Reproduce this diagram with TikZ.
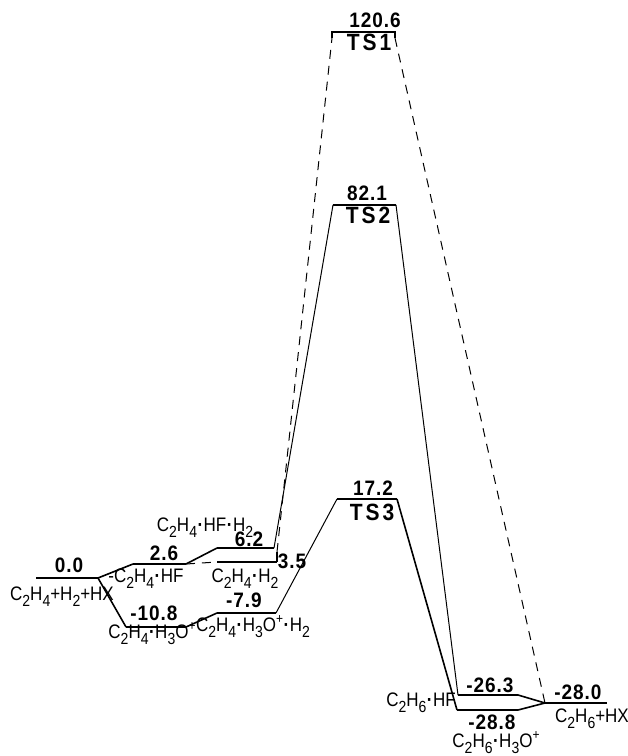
\documentclass[tikz,border=0pt]{standalone}
\usepackage{fontspec}
\setmainfont{Liberation Sans}
\newfontfamily\numf[LetterSpace=5]{Liberation Sans}
\newfontfamily\tsf[LetterSpace=14]{Liberation Sans}
\newcommand{\sbs}[1]{\raisebox{-0.6ex}{\fontsize{14}{14}\selectfont #1}}
\newcommand{\sps}[1]{\raisebox{0.75ex}{\fontsize{12}{12}\selectfont #1}}
\newcommand{\dt}{\kern0.5pt\textbf{·}\kern0.5pt}
\newcommand{\fm}[1]{\scalebox{1}[1.15]{\fontsize{17}{17}\selectfont #1}}
\newcommand{\nm}[1]{\scalebox{1}[1.1]{\numf\bfseries\fontsize{19}{19}\selectfont #1}}
\newcommand{\tsl}[1]{\scalebox{1}[1.12]{\tsf\bfseries\fontsize{21}{21}\selectfont #1}}
\tikzset{
  lvl/.style={line width=2.6pt},
  conn/.style={line width=1.6pt},
  thin/.style={line width=1pt},
  dsh/.style={line width=1pt, dash pattern=on 9pt off 7pt},
  formula/.style={anchor=base, inner sep=0pt},
  num/.style={anchor=base, inner sep=0pt},
  tslab/.style={anchor=base, inner sep=0pt}
}
\begin{document}
\begin{tikzpicture}[x=1pt,y=-1pt]
\useasboundingbox (0,0) rectangle (628,756);
% level end points
\coordinate (r0w) at (36,578);   \coordinate (r0e) at (98,578);
\coordinate (a26w) at (133,564); \coordinate (a26e) at (186,564);
\coordinate (a62w) at (217,548); \coordinate (a62e) at (274,548);
\coordinate (a35w) at (217,562); \coordinate (a35e) at (277,562);
\coordinate (a35t) at (277,552);
\coordinate (b108w) at (126,627); \coordinate (b108e) at (186,627);
\coordinate (b79w) at (217,613); \coordinate (b79e) at (276,613);
\coordinate (ts1w) at (332,32); \coordinate (ts1e) at (395,32);
\coordinate (ts1wd) at (332,38); \coordinate (ts1ed) at (395,38);
\coordinate (ts2w) at (333,205); \coordinate (ts2e) at (396,205);
\coordinate (ts3w) at (337,499); \coordinate (ts3e) at (397,499);
\coordinate (p263w) at (458,695); \coordinate (p263e) at (518,695);
\coordinate (p288w) at (457,710); \coordinate (p288e) at (518,710);
\coordinate (p280w) at (545,703); \coordinate (p280e) at (607,703);
% levels
\draw[lvl] (r0w) -- (r0e);
\draw[lvl] (a26w) -- (a26e);
\draw[lvl] (a62w) -- (a62e);
\draw[lvl] (a35w) -- (a35e);
\draw[lvl] (b108w) -- (b108e);
\draw[lvl] (b79w) -- (b79e);
\draw[lvl] (ts1wd) -- (ts1w) -- (ts1e) -- (ts1ed);
\draw[lvl] (ts2w) -- (ts2e);
\draw[lvl] (ts3w) -- (ts3e);
\draw[lvl] (p263w) -- (p263e);
\draw[lvl] (p288w) -- (p288e);
\draw[lvl] (p280w) -- (p280e);
% HF channel
\draw[conn] (r0e) -- (a26w);
\draw[conn] (a26e) -- (a62w);
\draw[thin] (a62e) -- (ts2w);
\draw[thin] (ts2e) -- (p263w);
\draw[conn] (p263e) -- (p280w);
% uncatalysed (dashed)
\draw[dsh] (a26e) -- (a35w);
\draw[conn] (a35e) -- (a35t);
\draw[dsh] (a35t) -- (ts1wd);
\draw[dsh] (ts1ed) -- (p280w);
% H3O+ channel
\draw[conn] (r0e) -- (b108w);
\draw[conn] (b108e) -- (b79w);
\draw[thin] (b79e) -- (ts3w);
\draw[conn] (ts3e) -- (p288w);
\draw[conn] (p288e) -- (p280w);
% labels
\node[num] (n00) at (69,572) {\nm{0.0}};
\node[formula] (f00) at (62,600) {\fm{C\sbs2H\sbs4+H\sbs2+HX}};
\node[num] (n26) at (164,560) {\nm{2.6}};
\node[formula] (f26) at (146,582) {\fm{-C\sbs2H\sbs4\dt HF}};
\node[formula] (f62) at (205,531) {\fm{C\sbs2H\sbs4\dt HF\dt H\sbs2}};
\node[num] (n62) at (249,546) {\nm{6.2}};
\node[formula] (f35) at (245,582) {\fm{C\sbs2H\sbs4\dt H\sbs2}};
\node[num] (n35) at (292,568) {\nm{3.5}};
\node[num] (n108) at (154,620) {\nm{-10.8}};
\node[formula] (f108) at (152,638) {\fm{C\sbs2H\sbs4\dt H\sbs3O\sps{+}}};
\node[num] (n79) at (244,607) {\nm{-7.9}};
\node[formula] (f79) at (253,631) {\fm{C\sbs2H\sbs4\dt H\sbs3O\sps{+}\dt H\sbs2}};
\node[num] (nts1) at (375,27) {\nm{120.6}};
\node[tslab] (lts1) at (369,50) {\tsl{TS1}};
\node[num] (nts2) at (367,200) {\nm{82.1}};
\node[tslab] (lts2) at (368,223) {\tsl{TS2}};
\node[num] (nts3) at (373,495) {\nm{17.2}};
\node[tslab] (lts3) at (372,520) {\tsl{TS3}};
\node[formula] (f263) at (421,706) {\fm{C\sbs2H\sbs6\dt HF}};
\node[num] (n263) at (490,692) {\nm{-26.3}};
\node[num] (n288) at (492,729) {\nm{-28.8}};
\node[formula] (f288) at (496,747) {\fm{C\sbs2H\sbs6\dt H\sbs3O\sps{+}}};
\node[num] (n280) at (578,699) {\nm{-28.0}};
\node[formula] (f280) at (592,722) {\fm{C\sbs2H\sbs6+HX}};
\end{tikzpicture}
\end{document}
